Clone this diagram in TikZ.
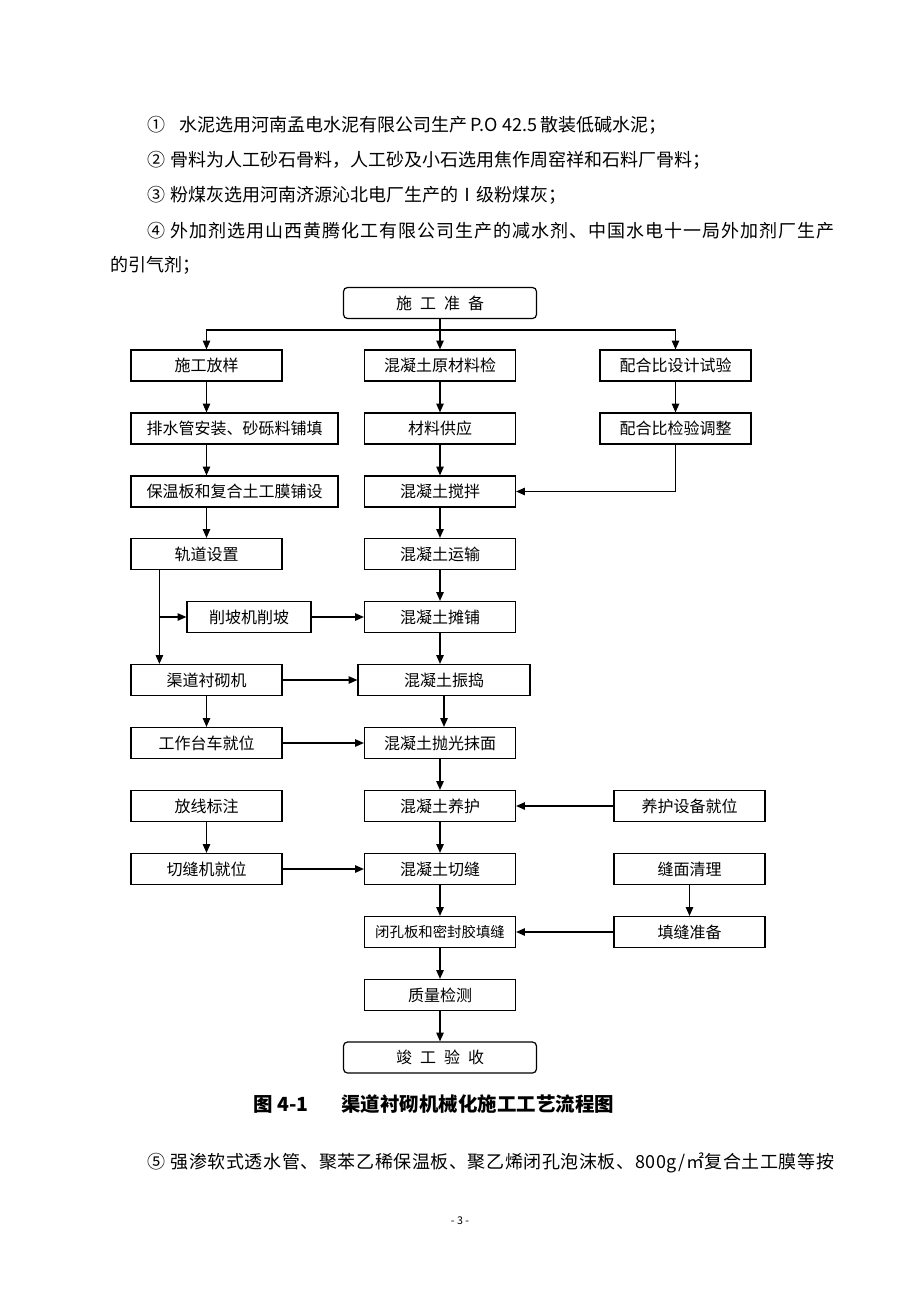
\documentclass[tikz,border=0pt]{standalone}
\usepackage{fontspec}
\setmainfont{Noto Sans CJK SC}
\usetikzlibrary{calc}
\usetikzlibrary{positioning}
\usetikzlibrary{arrows.meta}

\begin{document}
\begin{tikzpicture}[x=0.75pt,y=0.75pt,yscale=-1,xscale=1,
    box/.style={draw,line width=0.9pt,minimum height=23.25pt,minimum width=113.25pt,inner sep=0pt,font=\fontsize{12pt}{12pt}\selectfont},
    rbox/.style={box,rounded corners=3pt,minimum width=144.75pt},
    widebox/.style={box,minimum width=155.25pt},
    arr/.style={line width=0.9pt,-{Triangle[length=6.5pt,width=5.5pt]}},
    body/.style={anchor=west,inner sep=0pt,font=\fontsize{13.5pt}{13.5pt}\selectfont}]
            \useasboundingbox[fill=white] (0,0) rectangle (920,1302);

            % Text Node
            \node[body] (l1) at (147,125) {①\hspace{0.8em}水泥选用河南孟电水泥有限公司生产\,P.O 42.5\,散装低碱水泥；};
            % Text Node
            \node[body] (l2) at (147,160) {②\hspace{0.3em}骨料为人工砂石骨料，人工砂及小石选用焦作周窑祥和石料厂骨料；};
            % Text Node
            \node[body] (l3) at (147,195) {③\hspace{0.3em}粉煤灰选用河南济源沁北电厂生产的Ⅰ级粉煤灰；};
            % Text Node
            \node[body] (l4) at (147,231) {\addfontfeature{LetterSpace=5.5}④\hspace{0.3em}外加剂选用山西黄腾化工有限公司生产的减水剂、中国水电十一局外加剂厂生产};
            % Text Node
            \node[body] (l5) at (110,265) {的引气剂；};

            %Shape: Rounded Rectangle
            \node[rbox] (sgzb) at (440,303) {施\hspace{0.5em}工\hspace{0.5em}准\hspace{0.5em}备};
            % row 1
            \node[box] (sgfy) at (206.5,365.5) {施工放样};
            \node[box] (ycljy) at (440,365.5) {混凝土原材料检};
            \node[box] (phbsj) at (675.5,365.5) {配合比设计试验};
            % row 2
            \node[widebox] (psg) at (234.5,428.5) {排水管安装、砂砾料铺填};
            \node[box] (clgy) at (440,428.5) {材料供应};
            \node[box] (phbjy) at (675.5,428.5) {配合比检验调整};
            % row 3
            \node[widebox] (bwb) at (234.5,491.5) {保温板和复合土工膜铺设};
            \node[box] (jb) at (440,491.5) {混凝土搅拌};
            % row 4
            \node[box] (gdsz) at (206.5,554) {轨道设置};
            \node[box] (ys) at (440,554) {混凝土运输};
            % row 5
            \node[box,minimum width=93pt] (xpj) at (249,617) {削坡机削坡};
            \node[box] (tp) at (440,617) {混凝土摊铺};
            % row 6
            \node[box] (qdcq) at (206.5,680) {渠道衬砌机};
            \node[box,minimum width=129pt] (zd) at (444,680) {混凝土振捣};
            % row 7
            \node[box] (gztc) at (206.5,743) {工作台车就位};
            \node[box] (pg) at (440,743) {混凝土抛光抹面};
            % row 8
            \node[box] (fxbz) at (206.5,806) {放线标注};
            \node[box] (yh) at (440,806) {混凝土养护};
            \node[box] (yhsb) at (689.5,806) {养护设备就位};
            % row 9
            \node[box] (qfj) at (206.5,869) {切缝机就位};
            \node[box] (qf) at (440,869) {混凝土切缝};
            \node[box] (fmql) at (689.5,869) {缝面清理};
            % row 10
            \node[box,font=\fontsize{10.8pt}{10.8pt}\selectfont] (tf) at (440,932) {闭孔板和密封胶填缝};
            \node[box] (tfzb) at (689.5,932) {填缝准备};
            % row 11
            \node[box] (zljc) at (440,995) {质量检测};
            %Shape: Rounded Rectangle
            \node[rbox] (jgys) at (440,1057.5) {竣\hspace{0.5em}工\hspace{0.5em}验\hspace{0.5em}收};

            %Straight Lines
            \coordinate (fork) at (440,330);
            \draw[line width=0.9pt] (sgzb.south) -- (fork);
            \draw[arr] (fork) -| (sgfy.north);
            \draw[arr] (fork) -- (ycljy.north);
            \draw[arr] (fork) -| (phbsj.north);
            % left column
            \draw[arr] (sgfy.south) -- (sgfy.south |- psg.north);
            \draw[arr] (sgfy.south |- psg.south) -- (sgfy.south |- bwb.north);
            \draw[arr] (gdsz.north |- bwb.south) -- (gdsz.north);
            \coordinate (gdx) at ($(gdsz.south west)+(29,0)$);
            \draw[arr] (gdx) -- (gdx |- qdcq.north);
            \draw[arr] (gdx |- xpj.west) -- (xpj.west);
            \draw[arr] (xpj.east) -- (tp.west);
            \draw[arr] (qdcq.east) -- (zd.west);
            \draw[arr] (qdcq.south) -- (gztc.north);
            \draw[arr] (gztc.east) -- (pg.west);
            \draw[arr] (fxbz.south) -- (qfj.north);
            \draw[arr] (qfj.east) -- (qf.west);
            % right column
            \draw[arr] (phbsj.south) -- (phbjy.north);
            \draw[arr] (phbjy.south) |- (jb.east);
            \draw[arr] (yhsb.west) -- (yh.east);
            \draw[arr] (fmql.south) -- (tfzb.north);
            \draw[arr] (tfzb.west) -- (tf.east);
            % middle column
            \foreach \a/\b in {ycljy/clgy,clgy/jb,jb/ys,ys/tp,tp/zd,zd/pg,pg/yh,yh/qf,qf/tf,tf/zljc,zljc/jgys}
                \draw[arr] (\a.south) -- (\a.south |- \b.north);

            % Text Node
            \node[anchor=west,inner sep=0pt,font=\bfseries\fontsize{14.6pt}{14.6pt}\selectfont] (cap) at (253,1104) {图 4-1\hspace{1.7em}渠道衬砌机械化施工工艺流程图};
            % Text Node
            \node[body] (l6) at (147,1163) {\addfontfeature{LetterSpace=3.2}⑤\hspace{0.3em}强渗软式透水管、聚苯乙稀保温板、聚乙烯闭孔泡沫板、800g/㎡复合土工膜等按};
            % Text Node
            \node[inner sep=0pt,font=\fontsize{8pt}{8pt}\selectfont] (pgno) at (460,1221) {- 3 -};

        \end{tikzpicture}
\end{document}
